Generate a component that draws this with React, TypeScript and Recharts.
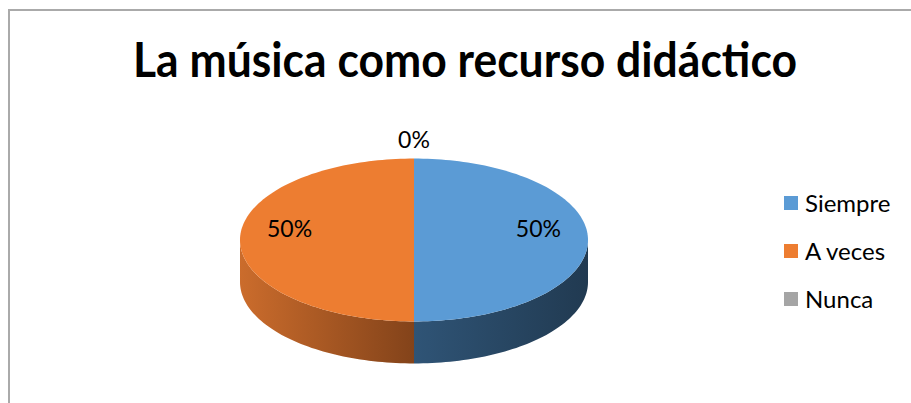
import React from 'react';
import { PieChart, Pie, Cell, Legend } from 'recharts';

const title = 'La música como recurso didáctico';
const categories = ['Siempre', 'A veces', 'Nunca'];
const values = [50, 50, 0];
const topColors = ['#5b9bd5', '#ed7d31', '#a5a5a5'];
const sideLight = ['#2f5476', '#cb6c2c', '#7f7f7f'];
const sideDark = ['#213a51', '#83431a', '#5a5a5a'];

const data = categories.map((name, i) => ({ name, value: values[i] }));

const W = 911;
const H = 403;
const RY_RATIO = 0.468;
const DEPTH = 42;
const FONT = 'Lato, "Open Sans", sans-serif';

const RAD = Math.PI / 180;
const pt = (cx: number, cy: number, rx: number, ry: number, a: number) =>
  [cx + rx * Math.cos(a * RAD), cy - ry * Math.sin(a * RAD)];

const TopShape = (props: any) => {
  const { cx, cy, outerRadius, startAngle, endAngle, fill } = props;
  if (Math.abs(endAngle - startAngle) < 1e-6) return <g />;
  const rx = outerRadius;
  const ry = outerRadius * RY_RATIO;
  const n = Math.max(2, Math.ceil(Math.abs(endAngle - startAngle) / 1.5));
  let d = `M${cx},${cy}`;
  for (let i = 0; i <= n; i++) {
    const a = startAngle + ((endAngle - startAngle) * i) / n;
    const [x, y] = pt(cx, cy, rx, ry, a);
    d += ` L${x.toFixed(2)},${y.toFixed(2)}`;
  }
  d += ' Z';
  return <path d={d} fill={fill} stroke="none" />;
};

const SideShape = (props: any) => {
  const { cx, cy, outerRadius, startAngle, endAngle, fill } = props;
  const lo = Math.min(startAngle, endAngle);
  const hi = Math.max(startAngle, endAngle);
  if (hi - lo < 1e-6) return <g />;
  const rx = outerRadius;
  const ry = outerRadius * RY_RATIO;
  const paths: string[] = [];
  for (let k = -2; k <= 2; k++) {
    const a1 = Math.max(lo, 180 + 360 * k);
    const a2 = Math.min(hi, 360 + 360 * k);
    if (a2 - a1 > 1e-6) {
      const n = Math.max(2, Math.ceil((a2 - a1) / 1.5));
      let d = '';
      for (let i = 0; i <= n; i++) {
        const a = a1 + ((a2 - a1) * i) / n;
        const [x, y] = pt(cx, cy, rx, ry, a);
        d += `${i === 0 ? 'M' : ' L'}${x.toFixed(2)},${y.toFixed(2)}`;
      }
      for (let i = n; i >= 0; i--) {
        const a = a1 + ((a2 - a1) * i) / n;
        const [x, y] = pt(cx, cy, rx, ry, a);
        d += ` L${x.toFixed(2)},${(y + DEPTH).toFixed(2)}`;
      }
      d += ' Z';
      paths.push(d);
    }
  }
  return (
    <g>
      {paths.map((d, i) => (
        <path key={i} d={d} fill={fill} stroke="none" />
      ))}
    </g>
  );
};

const renderLabel = (p: any) => {
  const { cx, cy, midAngle, outerRadius, percent } = p;
  const rx = outerRadius;
  const ry = outerRadius * RY_RATIO;
  const c = Math.cos(midAngle * RAD);
  const s = Math.sin(midAngle * RAD);
  let x: number;
  let y: number;
  if (!percent) {
    x = cx + (rx + 20) * c;
    y = cy - (ry + 20) * s;
  } else {
    x = cx + 0.715 * rx * c;
    y = cy - 0.715 * ry * s - 12;
  }
  return (
    <text
      x={x}
      y={y}
      textAnchor="middle"
      dominantBaseline="central"
      fill="#000000"
      fontFamily={FONT}
      fontSize={23}
    >
      {`${Math.round((percent || 0) * 100)}%`}
    </text>
  );
};

const renderLegend = () => (
  <div style={{ fontFamily: FONT, fontSize: 24, color: '#000' }}>
    {categories.map((name, i) => (
      <div
        key={name}
        style={{ display: 'flex', alignItems: 'center', height: 24, marginBottom: 24 }}
      >
        <span
          style={{
            display: 'inline-block',
            width: 14,
            height: 14,
            background: topColors[i],
            marginRight: 7,
          }}
        />
        <span style={{ lineHeight: '24px', whiteSpace: 'nowrap' }}>{name}</span>
      </div>
    ))}
  </div>
);

export default function App() {
  return (
    <div
      style={{
        position: 'absolute',
        left: 0,
        top: 0,
        width: W,
        height: H,
        background: '#ffffff',
        overflow: 'hidden',
      }}
    >
      <div
        style={{
          position: 'absolute',
          left: 8,
          top: 9,
          width: W + 20,
          height: H + 20,
          borderLeft: '2px solid #aaaaaa',
          borderTop: '2px solid #aaaaaa',
        }}
      />
      <svg
        width={W}
        height={H}
        style={{ position: 'absolute', left: 0, top: 0 }}
      >
        <text
          x={465}
          y={77}
          textAnchor="middle"
          fontFamily={FONT}
          fontWeight="bold"
          fontSize={48}
          fill="#000000"
          textLength={664}
          lengthAdjust="spacingAndGlyphs"
        >
          {title}
        </text>
      </svg>
      <div style={{ position: 'absolute', left: 0, top: 0 }}>
        <PieChart width={W} height={H} margin={{ top: 0, right: 0, bottom: 0, left: 0 }}>
          <defs>
            {categories.map((name, i) => (
              <linearGradient key={name} id={`side${i}`} x1="0" y1="0" x2="1" y2="0">
                <stop offset="0%" stopColor={sideLight[i]} />
                <stop offset="100%" stopColor={sideDark[i]} />
              </linearGradient>
            ))}
          </defs>
          <Pie
            data={data}
            dataKey="value"
            nameKey="name"
            cx={414}
            cy={240}
            outerRadius={174}
            startAngle={90}
            endAngle={-270}
            isAnimationActive={false}
            shape={SideShape}
            legendType="none"
            label={false}
            labelLine={false}
            stroke="none"
          >
            {data.map((d, i) => (
              <Cell key={d.name} fill={`url(#side${i})`} />
            ))}
          </Pie>
          <Pie
            data={data}
            dataKey="value"
            nameKey="name"
            cx={414}
            cy={240}
            outerRadius={174}
            startAngle={90}
            endAngle={-270}
            isAnimationActive={false}
            shape={TopShape}
            label={renderLabel}
            labelLine={false}
            stroke="none"
          >
            {data.map((d, i) => (
              <Cell key={d.name} fill={topColors[i]} />
            ))}
          </Pie>
          <Legend
            content={renderLegend}
            wrapperStyle={{ left: 784, top: 191, width: 127, bottom: 'auto', right: 'auto' }}
          />
        </PieChart>
      </div>
    </div>
  );
}
